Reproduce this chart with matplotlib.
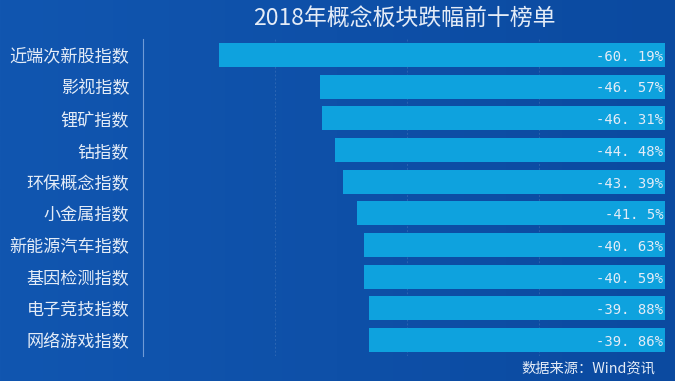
import matplotlib.pyplot as plt
import numpy as np
from matplotlib.colors import LinearSegmentedColormap

plt.rcParams['font.family'] = ['Noto Sans CJK SC', 'DejaVu Sans']

categories = [
    "近端次新股指数", "影视指数", "锂矿指数", "钴指数", "环保概念指数",
    "小金属指数", "新能源汽车指数", "基因检测指数", "电子竞技指数", "网络游戏指数",
]
values = [-60.19, -46.57, -46.31, -44.48, -43.39, -41.5, -40.63, -40.59, -39.88, -39.86]
value_labels = ["-60. 19%", "-46. 57%", "-46. 31%", "-44. 48%", "-43. 39%",
                "-41. 5%", "-40. 63%", "-40. 59%", "-39. 88%", "-39. 86%"]

bg = "#0c4ea6"
bar_color = "#0ea2de"
text_color = "#e4ecf7"

fig = plt.figure(figsize=(6.75, 3.81), dpi=100, facecolor=bg)

# soft background gradient
bg_ax = fig.add_axes([0, 0, 1, 1], zorder=-1)
grad = np.vstack([np.linspace(0, 1, 256)] * 2)
cmap = LinearSegmentedColormap.from_list("bg", ["#1156b0", "#0b4aa0"])
bg_ax.imshow(grad, aspect="auto", cmap=cmap, extent=[0, 1, 0, 1])
bg_ax.axis("off")

ax = fig.add_axes([143 / 675, 1 - 356 / 381, (667 - 143) / 675, (356 - 39) / 381])
ax.set_facecolor("none")

y = np.arange(len(categories))
ax.barh(y, values, height=0.76, color=bar_color, zorder=2)

for yi, lab in zip(y, value_labels):
    ax.text(-0.2, yi + 0.06, lab, ha="right", va="center", color=text_color,
            fontsize=10, family=["DejaVu Sans Mono"], zorder=3)

ax.set_ylim(len(categories) - 0.5, -0.5)
ax.set_xlim(-70.4, 0.3)
ax.set_yticks(y)
ax.set_yticklabels(categories, color=text_color, fontsize=12.3)
ax.tick_params(axis="y", length=0, pad=10)

ax.set_xticks([-70.4, -52.6, -34.8, -17.0])
ax.set_xticklabels(["", "", "", ""])
ax.tick_params(axis="x", length=0)
ax.grid(axis="x", color="white", alpha=0.12, linewidth=0.7, linestyle=(0, (2, 2)), zorder=1)

for side in ["top", "right", "bottom"]:
    ax.spines[side].set_visible(False)
ax.spines["left"].set_color("#6f9bd6")
ax.spines["left"].set_linewidth(0.8)

fig.text(404 / 675, 1 - 18 / 381, "2018年概念板块跌幅前十榜单", ha="center", va="center",
         color=text_color, fontsize=16.5)
fig.text(655 / 675, 1 - 369 / 381, "数据来源：Wind资讯", ha="right", va="center",
         color=text_color, fontsize=10.3, fontweight="medium")

fig.savefig("out.png", dpi=100, facecolor=bg)
